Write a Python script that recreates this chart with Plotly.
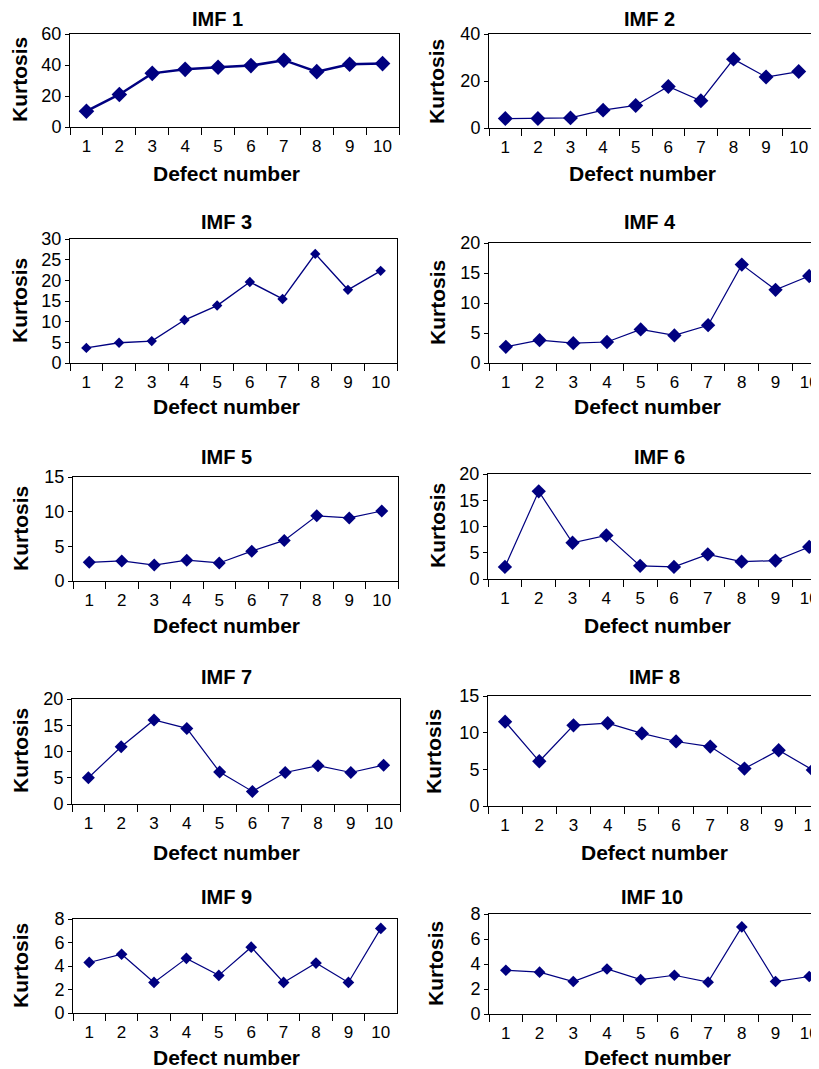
import plotly.graph_objects as go

# ---------------- data ----------------
defects = ["1", "2", "3", "4", "5", "6", "7", "8", "9", "10"]
titles = ["IMF 1", "IMF 2", "IMF 3", "IMF 4", "IMF 5",
          "IMF 6", "IMF 7", "IMF 8", "IMF 9", "IMF 10"]
imf1 = [10.2, 21.0, 34.6, 37.2, 38.5, 39.6, 43.1, 35.7, 40.5, 40.9]
imf2 = [4.0, 4.0, 4.3, 7.6, 9.6, 17.7, 11.6, 29.3, 21.7, 24.0]
imf3 = [3.65, 4.9, 5.3, 10.4, 13.9, 19.6, 15.5, 26.4, 17.7, 22.3]
imf4 = [2.7, 3.8, 3.3, 3.5, 5.6, 4.6, 6.3, 16.4, 12.2, 14.5]
imf5 = [2.7, 2.9, 2.3, 3.0, 2.6, 4.3, 5.85, 9.4, 9.1, 10.1]
imf6 = [2.3, 16.7, 6.9, 8.3, 2.5, 2.3, 4.7, 3.3, 3.5, 6.1]
imf7 = [5.0, 10.9, 16.0, 14.4, 6.1, 2.4, 6.0, 7.3, 6.0, 7.4]
imf8 = [11.5, 6.1, 11.0, 11.3, 9.9, 8.8, 8.1, 5.1, 7.6, 4.9]
imf9 = [4.3, 5.0, 2.6, 4.65, 3.2, 5.6, 2.6, 4.25, 2.6, 7.2]
imf10 = [3.5, 3.35, 2.6, 3.6, 2.75, 3.1, 2.55, 6.97, 2.6, 3.0]
series = [imf1, imf2, imf3, imf4, imf5, imf6, imf7, imf8, imf9, imf10]
y_max = [60, 40, 30, 20, 15, 20, 20, 15, 8, 8]
y_step = [20, 20, 5, 5, 5, 5, 5, 5, 2, 2]

# ---------------- layout (pixels, page coordinates) ----------------
PAGE_W, PAGE_H = 819, 1069
OFF = 8  # default page body margin
W, H = PAGE_W - OFF, PAGE_H - OFF


def px(x):
    return (x - OFF) / W


def py(y):
    return 1 - (y - OFF) / H


# plot boxes: left, right, top, bottom
boxes = [
    (70, 399, 34, 127), (489, 815, 34, 128),
    (70, 397, 239, 363), (489, 819, 243, 363),
    (73, 398, 477, 581), (488, 819, 474, 579),
    (72, 400, 699, 804), (488, 819, 696, 806),
    (73, 397, 919, 1013), (489, 819, 914, 1014),
]
x_hi = [9.5, 9.5, 9.5, 9.29, 9.5, 9.29, 9.5, 9.18, 9.5, 9.29]
cut = [False, False, False, True, False, True, False, True, False, True]
title_pos = [(217, 19), (649, 19), (226, 222), (650, 222), (226, 457),
             (659, 457), (226, 677), (654, 677), (226, 897), (652, 897)]
xtitle_pos = [(226, 173), (642, 173), (226, 407), (647, 407), (226, 625),
              (657, 625), (226, 852), (654, 852), (226, 1057), (657, 1057)]
ytitle_pos = [(20, 80), (436, 81), (20, 301), (437, 303), (20, 529),
              (437, 526), (20, 751), (433, 751), (20, 966), (435, 964)]
msize = [12, 11.5, 8, 11, 10, 11, 10, 11, 9, 9]
lwidth = [2.5, 1.2, 1.4, 1.2, 1.2, 1.2, 1.2, 1.2, 1.2, 1.2]

NAVY = "#000080"
FONT = "Liberation Sans, Arial, Helvetica, sans-serif"

fig = go.Figure()
layout = dict(
    width=W, height=H,
    margin=dict(l=0, r=0, t=0, b=0, pad=0, autoexpand=False),
    paper_bgcolor="white", plot_bgcolor="white", showlegend=False,
    font=dict(family=FONT, color="black", size=17),
)
annotations = []

for i in range(10):
    n = i + 1
    xa = "x" if n == 1 else f"x{n}"
    ya = "y" if n == 1 else f"y{n}"
    fig.add_trace(go.Scatter(
        x=defects, y=series[i], xaxis=xa, yaxis=ya, mode="lines+markers",
        line=dict(color=NAVY, width=lwidth[i]),
        marker=dict(symbol="diamond", size=msize[i], color=NAVY,
                    line=dict(width=0)),
        cliponaxis=False,
    ))
    l, r, t, b = boxes[i]
    layout[f"xaxis{n}"] = dict(
        domain=[px(l), min(px(r), 1.0)], anchor=ya, type="category",
        range=[-0.5, x_hi[i]], tickson="boundaries", ticks="outside",
        ticklen=7, tickwidth=1, tickcolor="black",
        showline=True, linecolor="black", linewidth=1, mirror=True,
        showgrid=False, zeroline=False, fixedrange=True, automargin=False,
        tickfont=dict(size=17, family=FONT, color="black"),
        ticklabelstandoff=4,
    )
    layout[f"yaxis{n}"] = dict(
        domain=[py(b), py(t)], anchor=xa,
        range=[0, y_max[i]], dtick=y_step[i], tick0=0,
        ticks="outside", ticklen=4, tickwidth=1, tickcolor="black",
        showline=True, linecolor="black", linewidth=1,
        mirror=not cut[i], automargin=False,
        showgrid=False, zeroline=False, fixedrange=True,
        tickfont=dict(size=18, family=FONT, color="black"),
        ticklabelstandoff=0,
    )
    tx, ty = title_pos[i]
    annotations.append(dict(
        text=f"<b>{titles[i]}</b>", x=px(tx), y=py(ty), xref="paper",
        yref="paper", xanchor="center", yanchor="middle", showarrow=False,
        font=dict(size=20, family=FONT, color="black")))
    ax, ay = xtitle_pos[i]
    annotations.append(dict(
        text="<b>Defect number</b>", x=px(ax), y=py(ay), xref="paper",
        yref="paper", xanchor="center", yanchor="middle", showarrow=False,
        font=dict(size=21, family=FONT, color="black")))
    kx, ky = ytitle_pos[i]
    annotations.append(dict(
        text="<b>Kurtosis</b>", x=px(kx), y=py(ky), xref="paper",
        yref="paper", xanchor="center", yanchor="middle", showarrow=False,
        textangle=-90, font=dict(size=21, family=FONT, color="black")))

layout["annotations"] = annotations
fig.update_layout(**layout)
fig.write_html("out.html")
